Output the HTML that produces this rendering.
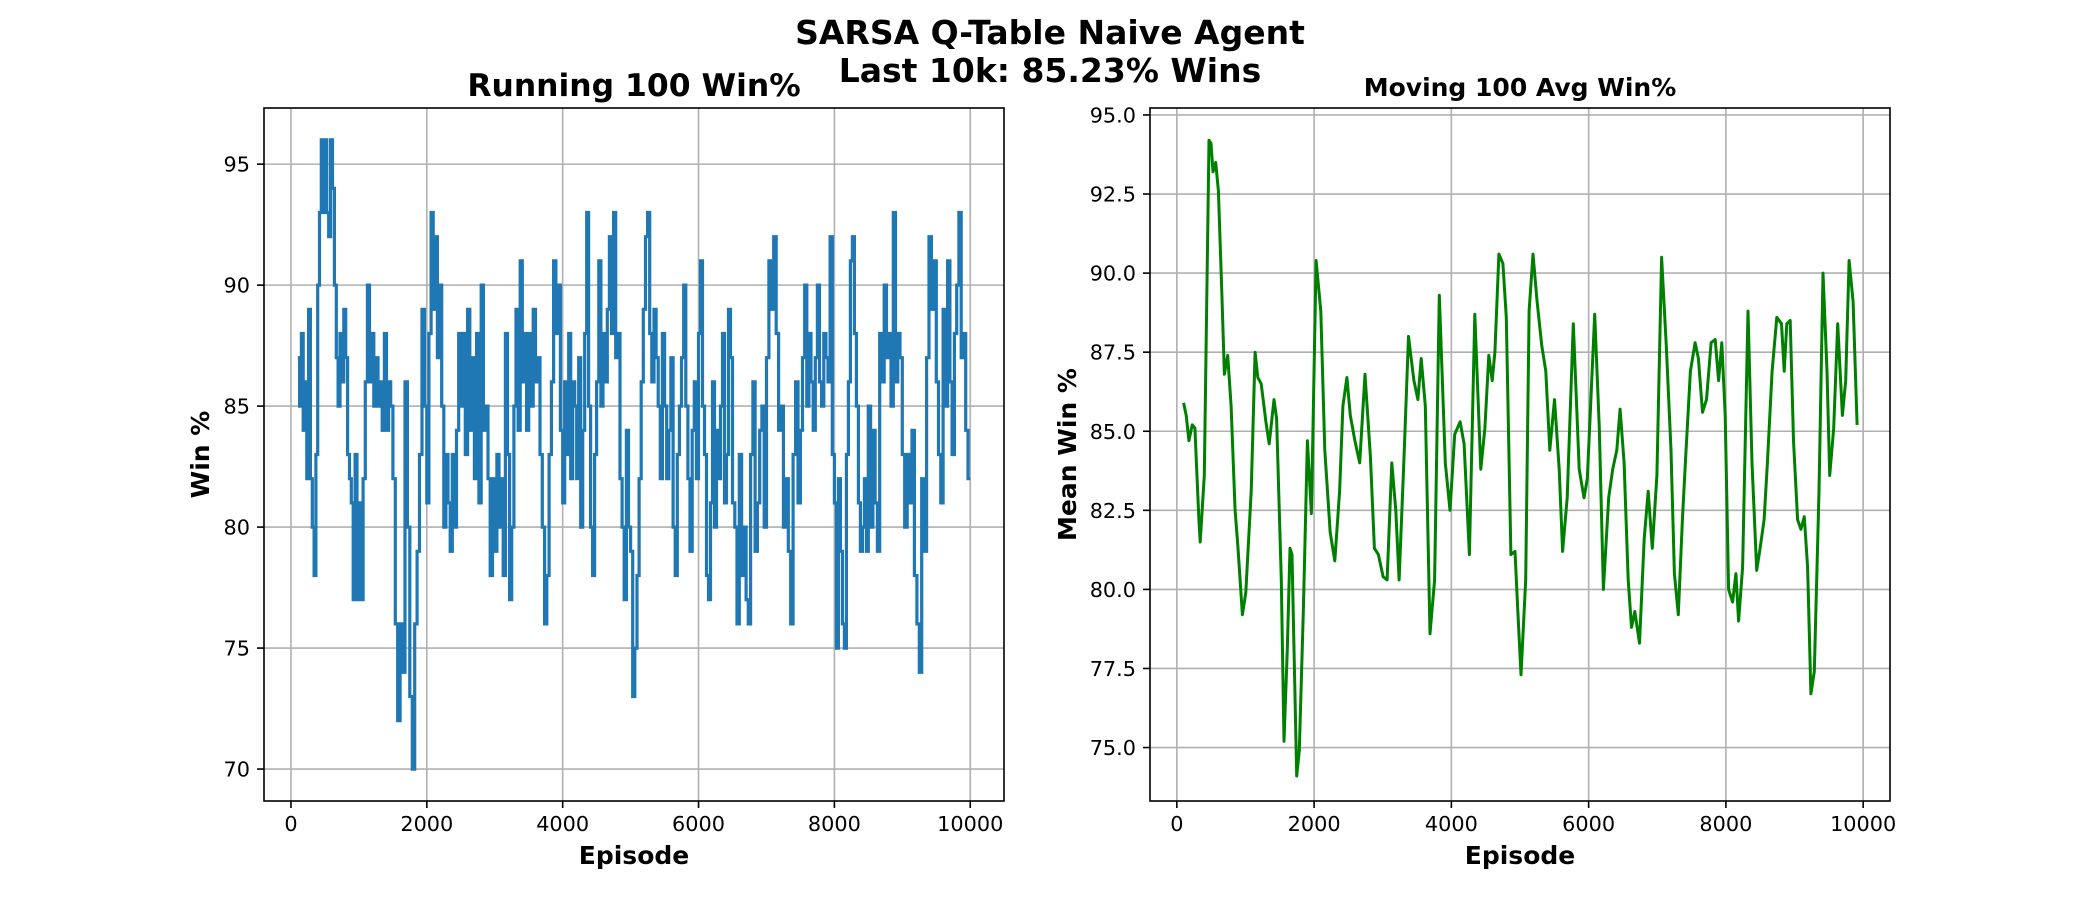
<!DOCTYPE html>
<html><head><meta charset="utf-8"><style>
html,body{margin:0;padding:0;background:#fff}
svg{display:block;font-family:"DejaVu Sans","Liberation Sans",sans-serif}
</style></head><body>
<svg id="fig" width="2100" height="900" viewBox="0 0 2100 900" xmlns="http://www.w3.org/2000/svg">
<rect width="2100" height="900" fill="#fff"/>
<text x="1050" y="44" text-anchor="middle" font-size="33" font-weight="bold">SARSA Q-Table Naive Agent</text>
<text x="1050" y="82" text-anchor="middle" font-size="33" font-weight="bold">Last 10k: 85.23% Wins</text>
<g id="left"></g>
<g id="right"></g>
</svg>
<script>
// Left chart data: running 100 win%, segments of 500 episodes
const leftSegStarts = [100,500,1000,1500,2000,2500,3000,3500,4000,4500,5000,5500,6000,6500,7000,7500,8000,8500,9000,9500];
const leftSegVals = [
[87,85,88,84,86,82,89,82,80,78,83,90,93,96,93],
[96,93,92,96,94,90,87,85,88,86,89,87,83,82,81,77,83,77],
[81,77,82,86,90,86,88,85,87,85,86,84,88,84,86,85],
[82,76,72,76,74,86,80,73,70,76,79,83,89,85],
[81,88,93,89,92,87,90,85,80,83,81,79,83,80,84,88],
[85,88,83,89,84,87,82,88,81,90,84,85,82,78,82],
[79,83,80,82,78,88,83,77,80,85,89,84,91,86,88,84],
[88,85,89,86,87,83,80,76,78,83,86,91,88,90,84],
[81,86,83,88,82,86,85,82,87,80,84,88,93,85,80,78,83],
[86,91,85,88,86,89,92,88,93,87,88,82,80,77,84,80],
[79,73,75,78,82,86,89,92,93,88,86,89,87,85,82,88],
[85,82,84,87,80,78,83,85,87,90,85,82,79,84,86,82],
[88,91,85,83,78,77,81,86,80,84,82,85,88,81,83,89,87],
[81,80,76,83,78,80,77,76,83,86,79,81,84,85,80],
[87,91,89,92,88,84,85,80,82,79,76,83,86,81],
[84,87,90,85,88,86,84,87,90,86,85,88,87,86,92,83],
[81,75,82,79,76,75,83,86,91,92,88,85,81,79,80,82,79],
[85,80,84,81,79,88,86,90,87,88,85,93,86,88,87],
[83,80,83,81,84,78,76,74,82,79,87,92,89,91],
[86,83,81,89,85,91,86,83,88,90,93,87,88,84,82]
];
const leftYTicks = [70,75,80,85,90,95];
const xTicks = [0,2000,4000,6000,8000,10000];

// Right chart data: moving 100 avg win%
const rightEps = [98,137,176,224,263,322,341,400,468,498,527,566,605,654,693,741,790,849,888,956,1005,1083,1141,1180,1229,1298,1346,1415,1454,1522,1561,1610,1649,1678,1746,1785,1844,1902,1961,2029,2098,2156,2234,2302,2371,2420,2478,2527,2595,2664,2741,2820,2878,2937,3005,3063,3132,3190,3239,3307,3376,3454,3512,3561,3620,3688,3756,3824,3912,3980,4049,4127,4185,4263,4341,4429,4488,4546,4595,4634,4693,4751,4800,4868,4927,4966,5015,5083,5132,5190,5249,5317,5376,5434,5502,5571,5620,5688,5776,5863,5932,5980,6029,6088,6156,6215,6293,6351,6410,6458,6517,6576,6624,6673,6741,6810,6868,6927,6995,7063,7132,7200,7249,7307,7366,7415,7483,7551,7600,7659,7717,7785,7844,7893,7941,7990,8039,8098,8146,8185,8244,8322,8381,8449,8498,8556,8605,8673,8742,8810,8849,8888,8937,8985,9044,9093,9142,9190,9239,9288,9356,9415,9473,9512,9571,9629,9698,9746,9795,9854,9912];
const rightVals = [85.9,85.5,84.7,85.2,85.1,82.2,81.5,83.6,94.2,94.1,93.2,93.5,92.6,89.5,86.8,87.4,85.8,82.5,81.4,79.2,79.9,83.1,87.5,86.7,86.5,85.3,84.6,86,85.4,80.3,75.2,78.1,81.3,81.1,74.1,74.9,79.4,84.7,82.4,90.4,88.8,84.4,81.8,80.9,83.1,85.8,86.7,85.5,84.7,84,86.8,84.2,81.3,81.1,80.4,80.3,84,82.5,80.3,84,88,86.6,86,87.3,85.8,78.6,80.3,89.3,84,82.5,84.9,85.3,84.6,81.1,88.7,83.8,85.1,87.4,86.6,87.5,90.6,90.3,88.6,81.1,81.2,79.4,77.3,80.3,88.8,90.6,89.1,87.7,86.9,84.4,86,83.8,81.2,82.9,88.4,83.8,82.9,83.5,85.8,88.7,85.1,80,82.9,83.8,84.4,85.7,84,80.3,78.8,79.3,78.3,81.6,83.1,81.3,83.6,90.5,87.7,84.4,80.5,79.2,82.2,84.2,86.9,87.8,87.3,85.6,86,87.8,87.9,86.6,87.8,85.5,80,79.6,80.5,79,80.7,88.8,84,80.6,81.3,82.2,84,86.9,88.6,88.4,86.9,88.4,88.5,84.7,82.2,81.9,82.3,80.7,76.7,77.4,83.1,90,86.9,83.6,85.1,88.4,85.5,86.6,90.4,89.1,85.2];
const rightYTicks = [75.0,77.5,80.0,82.5,85.0,87.5,90.0,92.5,95.0];

const NS = "http://www.w3.org/2000/svg";
function mk(parent, tag, attrs, text){
  const e = document.createElementNS(NS, tag);
  for (const k in attrs) e.setAttribute(k, attrs[k]);
  if (text !== undefined) e.textContent = text;
  parent.appendChild(e);
  return e;
}
function drawAxes(g, box, xdom, ydom, yticks, yfmt, title, titleSize, ylabel, ylabelX){
  const xs = v => box.x0 + (v - xdom[0]) / (xdom[1] - xdom[0]) * (box.x1 - box.x0);
  const ys = v => box.y1 - (v - ydom[0]) / (ydom[1] - ydom[0]) * (box.y1 - box.y0);
  xTicks.forEach(t => {
    const l = mk(g, 'line', {x1: xs(t), x2: xs(t), y1: box.y0, y2: box.y1, stroke: '#b0b0b0', 'stroke-width': 1.6});
    
    
    const tk = mk(g, 'line', {x1: xs(t), x2: xs(t), y1: box.y1, y2: box.y1 + 7, stroke: '#000', 'stroke-width': 1.6});
    
    
    const tl = mk(g, 'text', {x: xs(t), y: box.y1 + 30, 'text-anchor': 'middle', 'font-size': 20.8}, String(t));
    
    
  });
  yticks.forEach(t => {
    const l = mk(g, 'line', {x1: box.x0, x2: box.x1, y1: ys(t), y2: ys(t), stroke: '#b0b0b0', 'stroke-width': 1.6});
    
    
    const tk = mk(g, 'line', {x1: box.x0 - 7, x2: box.x0, y1: ys(t), y2: ys(t), stroke: '#000', 'stroke-width': 1.6});
    
    
    const tl = mk(g, 'text', {x: box.x0 - 14, y: ys(t) + 7.5, 'text-anchor': 'end', 'font-size': 20.8}, yfmt(t));
    
    
  });
  const tt = mk(g, 'text', {x: (box.x0 + box.x1) / 2, y: box.y0 - 12, 'text-anchor': 'middle', 'font-size': titleSize, 'font-weight': 'bold'}, title);
  
  
  const xl = mk(g, 'text', {x: (box.x0 + box.x1) / 2, y: box.y1 + 63, 'text-anchor': 'middle', 'font-size': 25, 'font-weight': 'bold'}, 'Episode');
  
  
  const cy = (box.y0 + box.y1) / 2;
  const yl = mk(g, 'text', {x: ylabelX, y: cy, 'text-anchor': 'middle', 'font-size': 25, 'font-weight': 'bold', transform: `rotate(-90 ${ylabelX} ${cy}) translate(0 9)`}, ylabel);
  
  
  return {xs, ys};
}
function frame(g, box){
  const r = mk(g, 'rect', {x: box.x0, y: box.y0, width: box.x1 - box.x0, height: box.y1 - box.y0, fill: 'none', stroke: '#000', 'stroke-width': 1.6});
  
  
}

// Left chart
const gl = document.getElementById('left');
const lb = {x0: 264, x1: 1004, y0: 108, y1: 801};
const L = drawAxes(gl, lb, [-397, 10497], [68.68, 97.32], leftYTicks, t => String(t), 'Running 100 Win%', 31.4, 'Win %', 200);
let lpts = [];
leftSegVals.forEach((seg, si) => {
  const start = leftSegStarts[si];
  const end = si + 1 < leftSegStarts.length ? leftSegStarts[si + 1] : 10000;
  seg.forEach((v, i) => {
    const ep = start + i * (end - start) / seg.length;
    const epn = start + (i + 1) * (end - start) / seg.length;
    lpts.push([L.xs(ep), L.ys(v)], [L.xs(epn), L.ys(v)]);
  });
});
const lp = mk(gl, 'polyline', {points: lpts.map(p => p[0].toFixed(1) + ',' + p[1].toFixed(1)).join(' '), fill: 'none', stroke: '#1f77b4', 'stroke-width': 3.2, 'stroke-linejoin': 'miter'});


frame(gl, lb);

// Right chart
const gr = document.getElementById('right');
const rb = {x0: 1150, x1: 1890, y0: 108, y1: 801};
const R = drawAxes(gr, rb, [-391, 10391], [73.31, 95.22], rightYTicks, t => t.toFixed(1), 'Moving 100 Avg Win%', 25, 'Mean Win %', 1067);
const rpts = rightEps.map((e, i) => R.xs(e).toFixed(1) + ',' + R.ys(rightVals[i]).toFixed(1)).join(' ');
const rp = mk(gr, 'polyline', {points: rpts, fill: 'none', stroke: '#008000', 'stroke-width': 3, 'stroke-linejoin': 'round'});


frame(gr, rb);
</script>
</body></html>
